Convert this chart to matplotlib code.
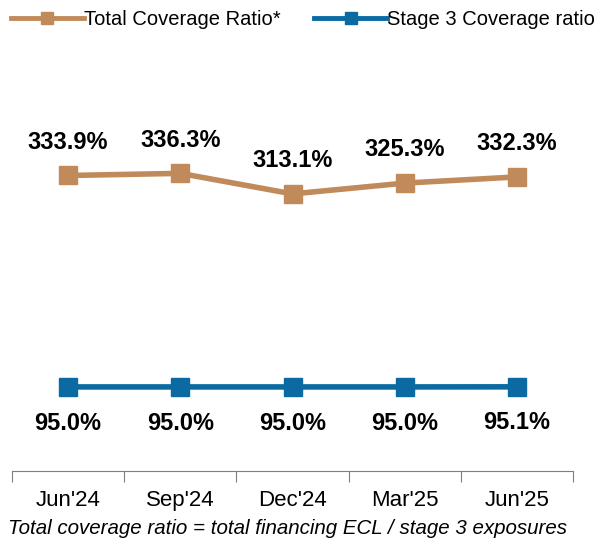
import matplotlib.pyplot as plt

plt.rcParams['font.family'] = ['Liberation Sans', 'DejaVu Sans']

quarters = ["Jun'24", "Sep'24", "Dec'24", "Mar'25", "Jun'25"]
total_cov = [333.9, 336.3, 313.1, 325.3, 332.3]
stage3_cov = [95.0, 95.0, 95.0, 95.0, 95.1]

orange = "#C08A5B"
blue = "#0A6AA1"

fig = plt.figure(figsize=(6.06, 5.44), dpi=100)
ax = fig.add_axes([12 / 606, 73 / 544, 561 / 606, 354 / 544])

x = range(len(quarters))
ax.plot(x, total_cov, color=orange, lw=4, marker="s", ms=12.5,
        label="Total Coverage Ratio*")
ax.plot(x, stage3_cov, color=blue, lw=4, marker="s", ms=12.5,
        label="Stage 3 Coverage ratio")

for i, v in enumerate(total_cov):
    ax.annotate(f"{v:.1f}%", (i, v), xytext=(0, 24), textcoords="offset points",
                ha="center", va="center", fontsize=17, fontweight="bold")
for i, v in enumerate(stage3_cov):
    ax.annotate(f"{v:.1f}%", (i, v), xytext=(0, -26), textcoords="offset points",
                ha="center", va="center", fontsize=17, fontweight="bold")

ax.set_xlim(-0.5, 4.5)
ax.set_ylim(0, 400)
ax.set_yticks([])
ax.set_xticks([-0.5, 0.5, 1.5, 2.5, 3.5, 4.5])
ax.set_xticklabels([])
ax.set_xticks(list(x), quarters, minor=True)
ax.tick_params(axis="x", which="major", length=8, color="#7f7f7f", direction="out")
ax.tick_params(axis="x", which="minor", length=0, labelsize=16, pad=14)
for s in ["top", "right", "left"]:
    ax.spines[s].set_visible(False)
ax.spines["bottom"].set_color("#7f7f7f")

leg = fig.legend(loc="upper center", bbox_to_anchor=(0.5, 1.015), ncol=2, frameon=False,
                 fontsize=14.5, handlelength=3.6, handletextpad=0.0, columnspacing=1.7,
                 markerscale=0.7)
for h in leg.legend_handles:
    h.set_linewidth(3.5)

fig.text(0.474, 0.028, "Total coverage ratio = total financing ECL / stage 3 exposures",
         ha="center", va="center", fontsize=14.8, style="italic")

fig.savefig("out.png", dpi=100)
